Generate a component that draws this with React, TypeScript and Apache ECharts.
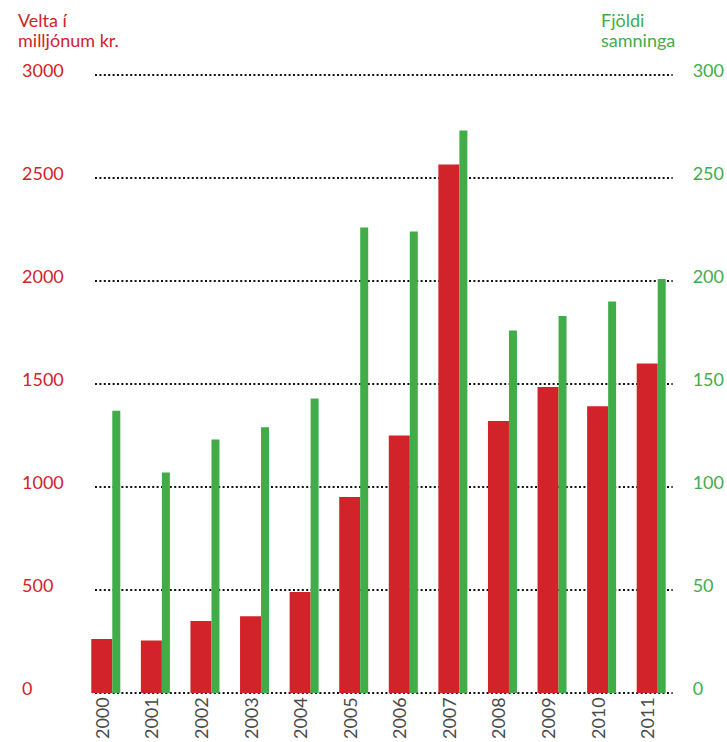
import React, { useEffect, useRef } from "react";
import * as echarts from "echarts";

const years = ["2000", "2001", "2002", "2003", "2004", "2005", "2006", "2007", "2008", "2009", "2010", "2011"];
const velta = [262, 255, 350, 372, 490, 952, 1250, 2565, 1320, 1485, 1392, 1600];
const fjoldi = [137, 107, 123, 129, 143, 226, 224, 273, 176, 183, 190, 201];
const leftTitle = ["Velta í", "milljónum kr."];
const rightTitle = ["Fjöldi", "samninga"];

const RED = "#D2232A";
const GREEN = "#41AD49";
const FONT = "Lato";

export default function App() {
  const ref = useRef<HTMLDivElement>(null);
  useEffect(() => {
    if (!ref.current) return;
    const chart = echarts.init(ref.current, null, { renderer: "svg" });
    const top = 75;
    const bottom = 49;
    const yLabel = {
      fontSize: 18,
      fontFamily: FONT,
      align: "left",
      verticalAlign: "bottom",
      lineHeight: 11,
      formatter: (v: number) => String(v),
    };
    const titleText = (text: string, left: number, y: number, fill: string) => ({
      type: "text",
      left,
      top: y,
      style: { text, fill, font: `18px ${FONT}` },
    });
    chart.setOption({
      animation: false,
      backgroundColor: "#ffffff",
      textStyle: { fontFamily: FONT },
      grid: [
        { left: 81, right: 51, top, bottom },
        { left: 95, right: 50, top, bottom },
        { left: 77, right: 55, top, bottom },
      ],
      xAxis: [
        {
          type: "category",
          gridIndex: 0,
          data: years,
          axisLine: { show: false },
          axisTick: { show: false },
          axisLabel: { show: false },
        },
        { type: "value", gridIndex: 1, min: 0, max: 1, show: false },
        {
          type: "category",
          gridIndex: 2,
          data: years,
          axisLine: { show: false },
          axisTick: { show: false },
          axisLabel: {
            rotate: 90,
            margin: 9,
            color: "#4a4a4a",
            fontSize: 18,
            fontFamily: FONT,
          },
        },
      ],
      yAxis: [
        { type: "value", gridIndex: 0, min: 0, max: 3000, show: false },
        { type: "value", gridIndex: 0, min: 0, max: 300, show: false },
        {
          type: "value",
          gridIndex: 1,
          position: "left",
          min: 0,
          max: 3000,
          interval: 500,
          axisLine: { show: false },
          axisTick: { show: false },
          axisLabel: { ...yLabel, color: RED, margin: 73 },
          splitLine: {
            show: true,
            lineStyle: { color: "#111111", width: 2, type: [2, 2.4] },
          },
        },
        {
          type: "value",
          gridIndex: 1,
          position: "right",
          min: 0,
          max: 300,
          interval: 50,
          axisLine: { show: false },
          axisTick: { show: false },
          axisLabel: { ...yLabel, color: GREEN, margin: 20 },
          splitLine: { show: false },
        },
        { type: "value", gridIndex: 2, min: 0, max: 1, show: false },
      ],
      series: [
        {
          name: "Velta",
          type: "bar",
          xAxisIndex: 0,
          yAxisIndex: 0,
          data: velta,
          barWidth: 21,
          barGap: "0%",
          itemStyle: { color: RED },
          z: 3,
        },
        {
          name: "Fjöldi",
          type: "bar",
          xAxisIndex: 0,
          yAxisIndex: 1,
          data: fjoldi,
          barWidth: 8,
          barGap: "0%",
          itemStyle: { color: GREEN },
          z: 3,
        },
      ],
      graphic: [
        titleText(leftTitle[0], 18, 11, RED),
        titleText(leftTitle[1], 18, 31, RED),
        titleText(rightTitle[0], 601, 11, GREEN),
        titleText(rightTitle[1], 601, 31, GREEN),
      ],
    });
    return () => chart.dispose();
  }, []);
  return (
    <div
      ref={ref}
      style={{ position: "fixed", left: 0, top: 0, width: 727, height: 742 }}
    />
  );
}
